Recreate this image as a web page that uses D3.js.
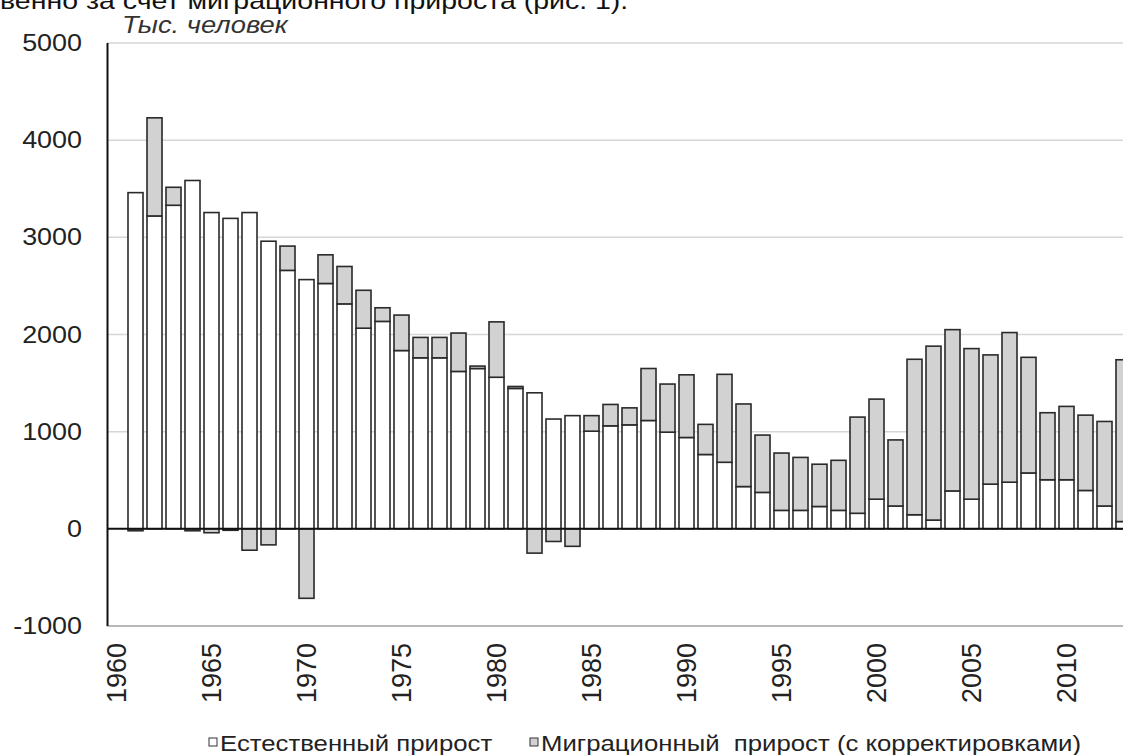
<!DOCTYPE html>
<html><head><meta charset="utf-8">
<script src="https://cdn.jsdelivr.net/npm/d3@7"></script>
<style>body{margin:0;background:#fff}svg{display:block}text{font-family:"Liberation Sans",Arial,sans-serif}</style>
</head><body>
<script>
const years = [1960,1961,1962,1963,1964,1965,1966,1967,1968,1969,1970,1971,1972,1973,1974,1975,1976,1977,1978,1979,1980,1981,1982,1983,1984,1985,1986,1987,1988,1989,1990,1991,1992,1993,1994,1995,1996,1997,1998,1999,2000,2001,2002,2003,2004,2005,2006,2007,2008,2009,2010,2011,2012,2013];
const natural = [null,3460,3220,3330,3585,3255,3195,3255,2960,2660,2565,2525,2315,2065,2135,1835,1760,1760,1620,1650,1560,1445,1400,1130,1165,1005,1060,1070,1115,995,940,765,685,435,375,190,190,230,190,160,305,235,145,90,390,305,460,480,575,505,505,395,235,75];
const migration = [null,-20,1010,185,-20,-40,-15,-220,-165,250,-715,295,385,390,140,365,210,210,395,25,570,20,-250,-130,-180,160,220,175,535,495,645,310,905,850,590,590,545,435,515,990,1030,680,1600,1790,1660,1550,1330,1540,1190,690,755,775,870,1665];
const yTicks = [-1000,0,1000,2000,3000,4000,5000];
const xTickLabels = ["1960","1965","1970","1975","1980","1985","1990","1995","2000","2005","2010"];
const seriesNames = ["Естественный прирост","Миграционный  прирост (с корректировками)"];
const unitLabel = "Тыс. человек";
const topText = "венно за счет миграционного прироста (рис. 1).";

const W = 1123, H = 755;
const svg = d3.select("body").append("svg").attr("width", W).attr("height", H);

const x = d3.scaleBand().domain(years.map(String)).range([107, 107 + 19*years.length]).paddingInner(0.21).paddingOuter(0.105);
const y = d3.scaleLinear().domain([-1000, 5000]).range([626, 43]);

// top cut text
svg.append("text").attr("transform", "translate(0,9) scale(1.24,1)").attr("font-size", 23).attr("fill", "#111").text(topText);

// gridlines
svg.append("g").selectAll("line").data(yTicks.filter(d => d !== 0)).join("line")
  .attr("x1", 107).attr("x2", W).attr("y1", d => y(d)).attr("y2", d => y(d))
  .attr("stroke", d => d === -1000 ? "#b8b8b8" : "#d6d6d6").attr("stroke-width", d => d === -1000 ? 2 : 1.5);

// y tick labels
svg.append("g").selectAll("text").data(yTicks).join("text")
  .attr("transform", d => `translate(82,${y(d)}) scale(1.17,1)`).attr("dy", "0.35em").attr("text-anchor", "end")
  .attr("font-size", 23).attr("fill", "#222").text(d => d);

// unit label
svg.append("text").attr("transform", "translate(122,33) scale(1.19,1)").attr("font-size", 23).attr("font-style", "italic").attr("fill", "#333").text(unitLabel);

// stacked data
const table = years.map((yr, i) => ({year: String(yr), natural: natural[i], migration: migration[i]})).filter(d => d.natural !== null);
const stack = d3.stack().keys(["natural","migration"]).offset(d3.stackOffsetDiverging);
const layers = stack(table);
const fills = {natural: "#ffffff", migration: "#d2d2d2"};

svg.append("g").selectAll("g").data(layers).join("g")
  .attr("fill", d => fills[d.key])
  .selectAll("rect").data(d => d).join("rect")
  .attr("x", d => x(d.data.year)).attr("width", x.bandwidth())
  .attr("y", d => y(Math.max(d[0], d[1])))
  .attr("height", d => Math.abs(y(d[0]) - y(d[1])))
  .attr("stroke", "#2a2a2a").attr("stroke-width", 1.6);

// zero line and y axis line
svg.append("line").attr("x1", 107).attr("x2", W).attr("y1", y(0)).attr("y2", y(0)).attr("stroke", "#111").attr("stroke-width", 2);
svg.append("line").attr("x1", 107.5).attr("x2", 107.5).attr("y1", y(5000)).attr("y2", y(-1000)).attr("stroke", "#111").attr("stroke-width", 2);

// x labels
svg.append("g").selectAll("text").data(xTickLabels).join("text")
  .attr("transform", d => `translate(${x(d) + x.bandwidth()/2},643) rotate(-90)`)
  .attr("text-anchor", "end").attr("dy", "0.35em").attr("font-size", 27).attr("fill", "#222").text(d => d);

// legend
const leg = svg.append("g").attr("transform", "translate(0,743)");
const legX = [209, 530];
seriesNames.forEach((name, i) => {
  leg.append("rect").attr("x", legX[i]).attr("y", -5).attr("width", 8).attr("height", 8)
    .attr("fill", i === 0 ? "#fff" : "#d2d2d2").attr("stroke", "#333").attr("stroke-width", 1);
  leg.append("text").attr("transform", `translate(${legX[i] + 11},0) scale(1.17,1)`).attr("dy", "0.35em").attr("font-size", 22)
    .attr("fill", "#222").style("white-space", "pre").text(name);
});
</script>
</body></html>
